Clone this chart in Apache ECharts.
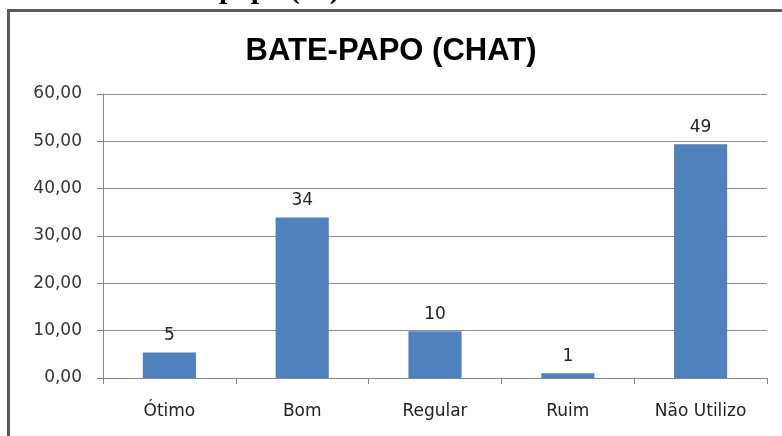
<!DOCTYPE html>
<html>
<head>
<meta charset="utf-8">
<title>BATE-PAPO (CHAT)</title>
<script src="https://cdn.jsdelivr.net/npm/echarts@6/dist/echarts.min.js"></script>
<style>
  html, body { margin: 0; padding: 0; background: #ffffff; }
  #chart { width: 782px; height: 436px; }
</style>
</head>
<body>
<div id="chart"></div>
<script>
// Survey answers for the chat tool, in percent of respondents
const categories = ['Ótimo', 'Bom', 'Regular', 'Ruim', 'Não Utilizo'];
const percentages = [5.4, 33.9, 9.9, 1.0, 49.4];
const chartTitle = 'BATE-PAPO (CHAT)';
const headingTail = 'papo (%)';

const yMin = 0;
const yMax = 60;
const yStep = 10;

const chart = echarts.init(document.getElementById('chart'), null, { renderer: 'canvas' });

const labelFont = 'DejaVu Sans';

chart.setOption({
  backgroundColor: '#ffffff',
  animation: false,
  title: {
    text: chartTitle,
    left: 'center',
    top: 31,
    textStyle: {
      fontFamily: 'Liberation Sans',
      fontWeight: 'bold',
      fontSize: 31,
      color: '#000000'
    }
  },
  graphic: [
    {
      // frame around the chart area
      type: 'rect',
      shape: { x: 8.5, y: 10.5, width: 790, height: 440 },
      style: { fill: 'none', stroke: '#5a5a5a', lineWidth: 3 },
      silent: true
    },
    {
      // tail of the page heading running above the frame
      type: 'text',
      x: 219,
      y: -25,
      style: {
        text: headingTail,
        font: 'bold 30px "Liberation Serif"',
        fill: '#000000'
      },
      silent: true
    }
  ],
  grid: {
    left: 103,
    right: 15,
    top: 94,
    bottom: 58,
    containLabel: false
  },
  xAxis: {
    type: 'category',
    data: categories,
    axisLine: { show: true, lineStyle: { color: '#868686', width: 1 } },
    axisTick: { show: true, length: 6, lineStyle: { color: '#868686' } },
    axisLabel: {
      margin: 25,
      fontFamily: labelFont,
      fontSize: 17,
      color: '#222222'
    }
  },
  yAxis: {
    type: 'value',
    min: yMin,
    max: yMax,
    interval: yStep,
    axisLine: { show: true, lineStyle: { color: '#868686', width: 1 } },
    axisTick: { show: true, length: 6, lineStyle: { color: '#868686' } },
    splitLine: { show: true, lineStyle: { color: '#8c8c8c', width: 1 } },
    axisLabel: {
      margin: 21,
      fontFamily: labelFont,
      fontSize: 17,
      color: '#333333',
      formatter: function (v) { return v.toFixed(2).replace('.', ','); }
    }
  },
  series: [
    {
      type: 'bar',
      data: percentages,
      barWidth: '40%',
      itemStyle: { color: '#4f81bd' },
      label: {
        show: true,
        position: 'top',
        distance: 8,
        fontFamily: labelFont,
        fontSize: 17,
        color: '#222222',
        formatter: function (p) { return Math.round(p.value).toString(); }
      }
    }
  ]
});
</script>
</body>
</html>
